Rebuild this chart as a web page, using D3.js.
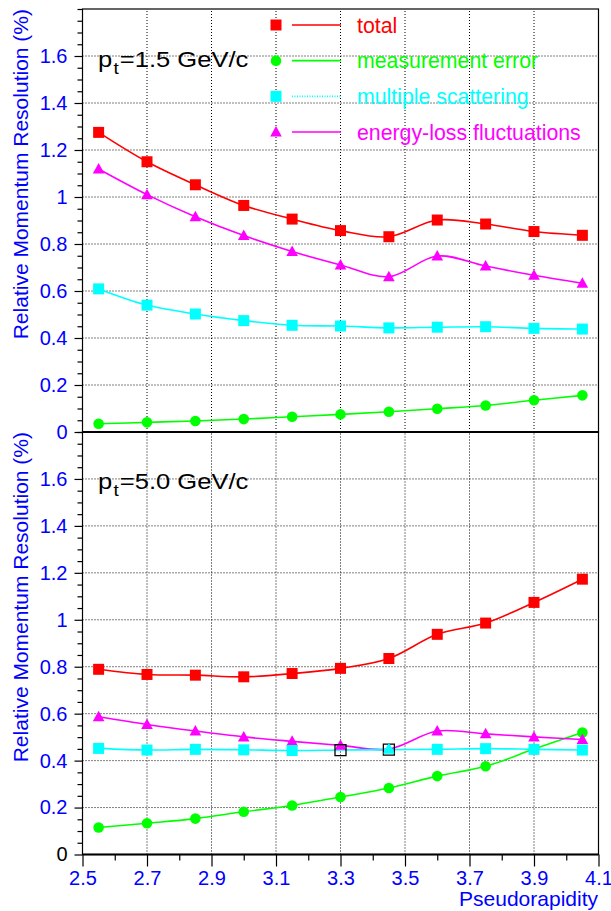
<!DOCTYPE html>
<html>
<head>
<meta charset="utf-8">
<script src="https://cdn.jsdelivr.net/npm/d3@7/dist/d3.min.js"></script>
<style>
  html, body { margin: 0; padding: 0; background: #ffffff; }
  svg { display: block; font-family: "Liberation Sans", Arial, Helvetica, sans-serif; }
</style>
</head>
<body>
<svg id="chart" width="611" height="911"></svg>
<script>
// ---------------- data ----------------
const eta = [2.55, 2.70, 2.85, 3.00, 3.15, 3.30, 3.45, 3.60, 3.75, 3.90, 4.05];

// top panel: pt = 1.5 GeV/c
const topTotal = [1.275, 1.150, 1.052, 0.964, 0.906, 0.857, 0.831, 0.902, 0.885, 0.853, 0.837];
const topMeas  = [0.035, 0.041, 0.047, 0.055, 0.065, 0.075, 0.086, 0.099, 0.113, 0.135, 0.156];
const topMS    = [0.609, 0.540, 0.502, 0.474, 0.454, 0.451, 0.443, 0.446, 0.448, 0.441, 0.438];
const topEloss = [1.119, 1.010, 0.916, 0.836, 0.768, 0.711, 0.661, 0.749, 0.706, 0.667, 0.633];

// bottom panel: pt = 5.0 GeV/c
const botTotal = [0.789, 0.767, 0.764, 0.757, 0.771, 0.793, 0.835, 0.938, 0.986, 1.074, 1.173];
const botMeas  = [0.115, 0.133, 0.153, 0.182, 0.209, 0.245, 0.283, 0.334, 0.376, 0.449, 0.520];
const botMS    = [0.452, 0.445, 0.448, 0.446, 0.443, 0.445, 0.447, 0.448, 0.451, 0.448, 0.445];
const botEloss = [0.587, 0.554, 0.526, 0.501, 0.482, 0.465, 0.449, 0.526, 0.514, 0.501, 0.490];

const xMajorTicks = [2.5, 2.7, 2.9, 3.1, 3.3, 3.5, 3.7, 3.9, 4.1];
const xMinorTicks = [2.6, 2.8, 3.0, 3.2, 3.4, 3.6, 3.8, 4.0];
const yMajorTicks = [0, 0.2, 0.4, 0.6, 0.8, 1.0, 1.2, 1.4, 1.6];
const yMinorTicks = [0.05,0.1,0.15,0.25,0.3,0.35,0.45,0.5,0.55,0.65,0.7,0.75,0.85,0.9,0.95,1.05,1.1,1.15,1.25,1.3,1.35,1.45,1.5,1.55,1.65,1.7,1.75,1.8];
const yGrid = [0.2, 0.4, 0.6, 0.8, 1.0, 1.2, 1.4, 1.6];
const xGrid = [2.7, 2.9, 3.1, 3.3, 3.5, 3.7, 3.9];

const legendLabels = ["total", "measurement error", "multiple scattering", "energy-loss fluctuations"];
const seriesColors = ["#ff0000", "#00ff00", "#00ffff", "#ff00ff"];
const seriesMarkers = ["square", "circle", "square", "triangle"];
const panelLabels = ["=1.5 GeV/c", "=5.0 GeV/c"];
const yTitle = "Relative Momentum Resolution (%)";
const xTitle = "Pseudorapidity";

// ---------------- layout ----------------
const svg = d3.select("#chart");
const x = d3.scaleLinear().domain([2.5, 4.1]).range([82.5, 598.5]);
const yTop = d3.scaleLinear().domain([0, 1.8]).range([432, 9]);
const yBot = d3.scaleLinear().domain([0, 1.8]).range([854.5, 432]);
const axisBlue = "#0000ff";

function markerPath(type) {
  if (type === "square") return "M-5.5,-5.5H5.5V5.5H-5.5Z";
  if (type === "triangle") return "M0,-6L5.8,4.5H-5.8Z";
  return d3.symbol(d3.symbolCircle, Math.PI * 5.3 * 5.3)();
}

function drawPanel(y, series, label, isBottom) {
  const g = svg.append("g");
  // grid
  g.selectAll(".hg").data(yGrid).join("line")
    .attr("x1", x.range()[0]).attr("x2", x.range()[1])
    .attr("y1", d => y(d)).attr("y2", d => y(d))
    .attr("stroke", "#000").attr("stroke-width", 1).attr("stroke-dasharray", "1,2");
  g.selectAll(".vg").data(xGrid).join("line")
    .attr("x1", d => x(d)).attr("x2", d => x(d))
    .attr("y1", y.range()[0]).attr("y2", y.range()[1])
    .attr("stroke", "#000").attr("stroke-width", 1).attr("stroke-dasharray", "1,2");

  // frame
  g.append("rect")
    .attr("x", x.range()[0]).attr("y", y.range()[1])
    .attr("width", x.range()[1] - x.range()[0]).attr("height", y.range()[0] - y.range()[1])
    .attr("fill", "none").attr("stroke", "#000").attr("stroke-width", 1.2);
  g.append("line")
    .attr("x1", x.range()[0]).attr("x2", x.range()[1])
    .attr("y1", y.range()[0]).attr("y2", y.range()[0])
    .attr("stroke", "#000").attr("stroke-width", 2);

  // y axis majors
  const yAx = g.append("g").attr("transform", `translate(${x.range()[0]},0)`)
    .call(d3.axisLeft(y).tickValues(yMajorTicks).tickSize(8).tickPadding(7)
      .tickFormat(d => d === 0 ? "0" : (d === 1 ? "1" : d.toFixed(1))));
  yAx.select(".domain").remove();
  yAx.selectAll("line").attr("stroke", "#000").attr("stroke-width", 1.2);
  yAx.selectAll("text").attr("fill", axisBlue).style("font-size", "20px")
    .style("font-family", "'Liberation Sans', Arial, sans-serif");
  if (isBottom) yAx.selectAll("text").filter(d => d === 0).attr("fill", "#000");
  const yMin = g.append("g").attr("transform", `translate(${x.range()[0]},0)`)
    .call(d3.axisLeft(y).tickValues(yMinorTicks).tickSize(5).tickFormat(""));
  yMin.select(".domain").remove();
  yMin.selectAll("line").attr("stroke", "#000").attr("stroke-width", 1.2);

  // curves & markers
  const line = d3.line().x((d, i) => x(eta[i])).y(d => y(d)).curve(d3.curveCatmullRom.alpha(0.5));
  const order = [0, 1, 3, 2];
  order.forEach(si => {
    g.append("path").datum(series[si]).attr("d", line)
      .attr("fill", "none").attr("stroke", seriesColors[si]).attr("stroke-width", 1.6);
  });
  order.forEach(si => {
    g.selectAll(null).data(series[si]).join("path")
      .attr("transform", (d, i) => `translate(${x(eta[i])},${y(d)})`)
      .attr("d", markerPath(seriesMarkers[si]))
      .attr("fill", (d, i) => {
        if (isBottom && si === 2 && (i === 5 || i === 6)) return "none";
        if (isBottom && si === 3 && i === 6) return seriesColors[2];
        return seriesColors[si];
      })
      .attr("stroke", (d, i) => (isBottom && si === 2 && (i === 5 || i === 6)) ? "#000" : "none")
      .attr("stroke-width", 1.3);
  });
  if (isBottom) {
    g.append("path")
      .attr("transform", `translate(${x(eta[6])},${y(series[3][6])})`)
      .attr("d", markerPath("triangle")).attr("fill", seriesColors[2]);
  }

  // y title
  g.append("text")
    .attr("transform", `translate(28,${y.range()[1]}) rotate(-90)`)
    .attr("text-anchor", "end").attr("fill", axisBlue)
    .style("font-size", "21px").text(yTitle);

  // pt label (wide, ROOT-like latex spacing)
  const lg = g.append("g").attr("transform", `translate(98,${y(1.6) + 10.5})`);
  const t = lg.append("text").attr("x", 0).attr("y", 0)
    .attr("fill", "#000").style("font-size", "21.5px");
  t.append("tspan").text("p");
  t.append("tspan").attr("dx", 1).attr("dy", 7).style("font-size", "16px").text("t");
  t.append("tspan").attr("dx", 1).attr("dy", -7).text(label);
  const w = t.node().getComputedTextLength();
  t.attr("transform", `scale(${148 / w},1)`);
  return g;
}

drawPanel(yTop, [topTotal, topMeas, topMS, topEloss], panelLabels[0], false);
drawPanel(yBot, [botTotal, botMeas, botMS, botEloss], panelLabels[1], true);

// x axis on bottom panel
const xAx = svg.append("g").attr("transform", `translate(0,${yBot.range()[0]})`)
  .call(d3.axisBottom(x).tickValues(xMajorTicks).tickSize(12).tickPadding(4)
    .tickFormat(d => d.toFixed(1)));
xAx.select(".domain").remove();
xAx.selectAll("line").attr("stroke", "#000").attr("stroke-width", 1.2);
xAx.selectAll("text").attr("fill", axisBlue).style("font-size", "20px")
  .style("font-family", "'Liberation Sans', Arial, sans-serif");
const xMin = svg.append("g").attr("transform", `translate(0,${yBot.range()[0]})`)
  .call(d3.axisBottom(x).tickValues(xMinorTicks).tickSize(6).tickFormat(""));
xMin.select(".domain").remove();
xMin.selectAll("line").attr("stroke", "#000").attr("stroke-width", 1.2);

svg.append("text").attr("x", 598).attr("y", 906).attr("text-anchor", "end")
  .attr("fill", axisBlue).style("font-size", "21px").text(xTitle);

// legend (top panel)
const legRowY = d3.scaleLinear().domain([0, 3]).range([25, 132]);
const leg = svg.append("g");
legendLabels.forEach((lab, i) => {
  const yy = legRowY(i);
  leg.append("line").attr("x1", 292).attr("x2", 341).attr("y1", yy).attr("y2", yy)
    .attr("stroke", seriesColors[i]).attr("stroke-width", 1.6)
    .attr("stroke-dasharray", i === 2 ? "1,1.5" : null);
  leg.append("path").attr("transform", `translate(276,${yy})`)
    .attr("d", markerPath(seriesMarkers[i])).attr("fill", seriesColors[i]);
  leg.append("text").attr("x", 357).attr("y", yy + 7.8)
    .attr("fill", seriesColors[i]).style("font-size", "21.3px").text(lab);
});
</script>
</body>
</html>
